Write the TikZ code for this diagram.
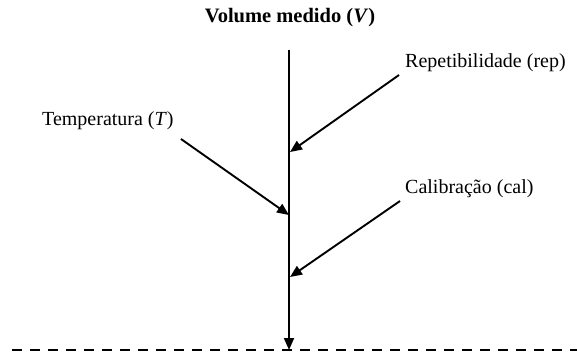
\documentclass[tikz,border=0pt]{standalone}
\usepackage{fontspec}
\setmainfont{Liberation Serif}
\usetikzlibrary{arrows.meta}
\begin{document}
\begin{tikzpicture}[x=1pt,y=-1pt,
  lbl/.style={inner sep=0pt,font=\fontsize{20}{22}\selectfont},
  arr/.style={line width=1.9pt,-{Triangle[length=12pt,width=10pt]}}]
\useasboundingbox (0,0) rectangle (577,354);
\node[lbl,font=\fontsize{20.5}{22}\selectfont\bfseries] (title) at (290,18) {Volume medido (\textit{V})};
\node[lbl,anchor=west] (temp) at (42,121) {Temperatura (\textit{T})};
\node[lbl,anchor=west] (rep) at (405,63) {Repetibilidade (rep)};
\node[lbl,anchor=west] (cal) at (405,189) {Calibração (cal)};
\coordinate (top) at (289,50);
\coordinate (bot) at (289,350);
\coordinate (ts) at (181,139);
\coordinate (te) at (289,215);
\coordinate (rs) at (399,75);
\coordinate (re) at (290,152);
\coordinate (cs) at (400,201);
\coordinate (ce) at (290,277);
\coordinate (dl) at (12,350);
\coordinate (dr) at (577,350);
\draw[line width=2pt,dash pattern=on 10pt off 8pt] (dl) -- (dr);
\draw[arr] (top) -- (bot);
\draw[arr] (ts) -- (te);
\draw[arr] (rs) -- (re);
\draw[arr] (cs) -- (ce);
\end{tikzpicture}
\end{document}
